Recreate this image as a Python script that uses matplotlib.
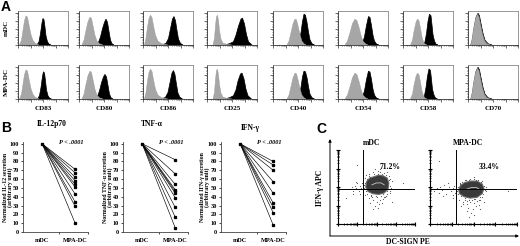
import numpy as np
import matplotlib
matplotlib.use("Agg")
import matplotlib.pyplot as plt
from matplotlib.patches import Polygon

# ---------------- data ----------------
MARKERS = ['CD83', 'CD80', 'CD86', 'CD25', 'CD40', 'CD54', 'CD58', 'CD70']
ROW_LABELS = ['mDC', 'MPA-DC']

# histogram outlines (x = fraction of log scale, y = fraction of max count)
ISOTYPE_CURVES = [
    [(0.03, 0), (0.07, 0.15), (0.10, 0.45), (0.13, 0.75), (0.16, 0.9), (0.19, 0.86), (0.22, 0.62), (0.26, 0.32), (0.30, 0.14), (0.35, 0.05), (0.42, 0)],
    [(0.06, 0), (0.10, 0.15), (0.14, 0.45), (0.18, 0.72), (0.22, 0.86), (0.25, 0.82), (0.28, 0.6), (0.32, 0.3), (0.36, 0.12), (0.41, 0.04), (0.48, 0)],
    [(0.03, 0), (0.06, 0.2), (0.09, 0.55), (0.12, 0.82), (0.15, 0.92), (0.18, 0.85), (0.21, 0.6), (0.25, 0.3), (0.30, 0.12), (0.37, 0.04), (0.50, 0)],
    [(0.12, 0), (0.15, 0.2), (0.17, 0.6), (0.19, 0.88), (0.21, 0.92), (0.23, 0.75), (0.25, 0.45), (0.28, 0.18), (0.32, 0.06), (0.40, 0.02), (0.50, 0)],
    [(0.28, 0), (0.32, 0.12), (0.36, 0.38), (0.40, 0.65), (0.44, 0.8), (0.47, 0.78), (0.50, 0.6), (0.54, 0.32), (0.58, 0.12), (0.62, 0.04), (0.66, 0)],
    [(0.14, 0), (0.19, 0.12), (0.24, 0.38), (0.29, 0.66), (0.34, 0.8), (0.38, 0.75), (0.42, 0.55), (0.46, 0.3), (0.50, 0.12), (0.55, 0.04), (0.60, 0)],
    [(0.15, 0), (0.19, 0.15), (0.22, 0.42), (0.26, 0.7), (0.29, 0.8), (0.32, 0.75), (0.35, 0.52), (0.38, 0.25), (0.41, 0.1), (0.44, 0.03), (0.48, 0)],
    [(0.05, 0), (0.08, 0.18), (0.11, 0.5), (0.15, 0.82), (0.19, 0.95), (0.22, 0.88), (0.25, 0.65), (0.29, 0.35), (0.33, 0.14), (0.38, 0.04), (0.45, 0)],
]
MDC_CURVES = [
    [(0.38, 0), (0.42, 0.1), (0.45, 0.35), (0.48, 0.68), (0.50, 0.82), (0.52, 0.78), (0.54, 0.55), (0.56, 0.28), (0.59, 0.1), (0.62, 0.03), (0.66, 0)],
    [(0.34, 0), (0.39, 0.08), (0.43, 0.25), (0.47, 0.5), (0.51, 0.7), (0.54, 0.8), (0.57, 0.7), (0.60, 0.42), (0.63, 0.15), (0.66, 0.04), (0.70, 0)],
    [(0.38, 0), (0.46, 0.05), (0.51, 0.2), (0.55, 0.5), (0.59, 0.8), (0.62, 0.88), (0.65, 0.75), (0.68, 0.45), (0.71, 0.18), (0.75, 0.05), (0.80, 0)],
    [(0.35, 0), (0.45, 0.04), (0.53, 0.1), (0.58, 0.3), (0.63, 0.58), (0.68, 0.8), (0.71, 0.83), (0.75, 0.65), (0.79, 0.32), (0.83, 0.1), (0.90, 0)],
    [(0.50, 0), (0.53, 0.12), (0.56, 0.38), (0.59, 0.72), (0.62, 0.95), (0.65, 0.92), (0.68, 0.7), (0.71, 0.4), (0.74, 0.16), (0.78, 0.04), (0.83, 0)],
    [(0.45, 0), (0.49, 0.06), (0.53, 0.25), (0.57, 0.6), (0.61, 0.88), (0.64, 0.85), (0.67, 0.6), (0.70, 0.3), (0.73, 0.12), (0.77, 0.03), (0.82, 0)],
    [(0.40, 0), (0.44, 0.1), (0.47, 0.35), (0.50, 0.72), (0.53, 0.95), (0.56, 0.9), (0.58, 0.62), (0.60, 0.32), (0.63, 0.12), (0.66, 0.03), (0.70, 0)],
    [(0.06, 0), (0.09, 0.18), (0.12, 0.5), (0.16, 0.85), (0.20, 0.98), (0.23, 0.9), (0.26, 0.66), (0.30, 0.36), (0.34, 0.15), (0.40, 0.04), (0.48, 0)],
]
MPA_CURVES = [
    [(0.39, 0), (0.43, 0.1), (0.46, 0.35), (0.49, 0.7), (0.51, 0.84), (0.53, 0.8), (0.55, 0.56), (0.57, 0.28), (0.60, 0.1), (0.63, 0.03), (0.67, 0)],
    [(0.32, 0), (0.37, 0.08), (0.41, 0.25), (0.45, 0.5), (0.49, 0.68), (0.52, 0.76), (0.55, 0.68), (0.58, 0.42), (0.61, 0.15), (0.64, 0.04), (0.68, 0)],
    [(0.37, 0), (0.45, 0.05), (0.50, 0.2), (0.54, 0.5), (0.58, 0.8), (0.61, 0.88), (0.64, 0.75), (0.67, 0.45), (0.70, 0.18), (0.74, 0.05), (0.79, 0)],
    [(0.35, 0), (0.45, 0.04), (0.53, 0.1), (0.58, 0.28), (0.62, 0.55), (0.67, 0.77), (0.70, 0.8), (0.74, 0.62), (0.78, 0.3), (0.82, 0.1), (0.89, 0)],
    [(0.50, 0), (0.53, 0.12), (0.56, 0.36), (0.59, 0.68), (0.62, 0.86), (0.65, 0.84), (0.68, 0.66), (0.71, 0.38), (0.74, 0.15), (0.78, 0.04), (0.83, 0)],
    [(0.45, 0), (0.49, 0.06), (0.53, 0.25), (0.57, 0.6), (0.61, 0.86), (0.64, 0.83), (0.67, 0.6), (0.70, 0.3), (0.73, 0.12), (0.77, 0.03), (0.82, 0)],
    [(0.39, 0), (0.43, 0.1), (0.46, 0.35), (0.49, 0.7), (0.52, 0.93), (0.55, 0.88), (0.57, 0.6), (0.59, 0.3), (0.62, 0.12), (0.65, 0.03), (0.69, 0)],
    [(0.06, 0), (0.09, 0.18), (0.12, 0.5), (0.16, 0.85), (0.20, 0.98), (0.23, 0.9), (0.26, 0.66), (0.30, 0.36), (0.34, 0.15), (0.40, 0.04), (0.48, 0)],
]

# panel B
B_CATEGORIES = ['mDC', 'MPA-DC']
CYTOKINES = ['IL-12p70', 'TNF-α', 'IFN-γ']
YLABELS = ['Normalized IL-12 secretion\n(arbitrary unit)',
           'Normalized TNF-α secretion\n(arbitrary unit)',
           'Normalized IFN-γ secretion\n(arbitrary unit)']
IL12_MPA = [71, 67, 62, 58, 54, 51, 43, 34, 29, 10]
TNF_MPA = [82, 66, 54, 48, 46, 44, 39, 28, 17, 5]
IFNG_MPA = [80, 76, 70, 57, 44, 33, 28, 22, 8]
MDC_LEVEL = 100
P_TEXT = 'P < .0001'

# panel C (fractions of the log display)
C_TITLES = ['mDC', 'MPA-DC']
C_PERCENT = ['71.2%', '33.4%']
C_GATES = [(0.32, 0.47), (0.30, 0.47)]
MDC_CORE = [(0.36, 0.50), (0.37, 0.57), (0.41, 0.62), (0.47, 0.64), (0.53, 0.66), (0.59, 0.65), (0.64, 0.62),
            (0.66, 0.55), (0.65, 0.47), (0.60, 0.42), (0.53, 0.40), (0.45, 0.41), (0.39, 0.44)]
MPA_CORE = [(0.33, 0.46), (0.35, 0.52), (0.40, 0.56), (0.47, 0.58), (0.54, 0.58), (0.60, 0.54),
            (0.62, 0.48), (0.60, 0.41), (0.54, 0.36), (0.46, 0.35), (0.39, 0.37), (0.34, 0.41)]
MDC_INNER = [(0.44, 0.53), (0.50, 0.555), (0.56, 0.555), (0.60, 0.53)]
MPA_INNER = [(0.42, 0.47), (0.48, 0.495), (0.54, 0.49), (0.57, 0.465)]
MDC_EVENTS_X = [0.16, 0.18, 0.20, 0.22, 0.24, 0.25, 0.27, 0.28, 0.30, 0.31, 0.33, 0.34, 0.19, 0.23, 0.29,
                0.40, 0.45, 0.50, 0.55, 0.60, 0.48, 0.53, 0.43, 0.62, 0.57, 0.46, 0.52,
                0.40, 0.45, 0.52, 0.60, 0.66, 0.35, 0.70, 0.69, 0.67, 0.55, 0.48,
                0.25, 0.70, 0.85, 0.10, 0.37, 0.63, 0.68, 0.35, 0.42, 0.58,
                0.34, 0.35, 0.36, 0.38, 0.42, 0.47, 0.52, 0.57, 0.62, 0.66, 0.68, 0.67, 0.63, 0.56,
                0.49, 0.43, 0.38, 0.44, 0.50, 0.58, 0.64, 0.40, 0.54, 0.61]
MDC_EVENTS_Y = [0.47, 0.50, 0.44, 0.52, 0.48, 0.55, 0.45, 0.51, 0.49, 0.56, 0.43, 0.53, 0.41, 0.57, 0.40,
                0.35, 0.32, 0.30, 0.33, 0.36, 0.25, 0.27, 0.38, 0.38, 0.29, 0.20, 0.22,
                0.68, 0.70, 0.71, 0.69, 0.65, 0.62, 0.58, 0.48, 0.42, 0.74, 0.75,
                0.80, 0.30, 0.55, 0.35, 0.66, 0.70, 0.61, 0.39, 0.28, 0.34,
                0.48, 0.55, 0.44, 0.61, 0.64, 0.67, 0.68, 0.67, 0.66, 0.60, 0.52, 0.45, 0.40, 0.38,
                0.38, 0.39, 0.41, 0.36, 0.37, 0.40, 0.44, 0.65, 0.70, 0.37]
MPA_EVENTS_X = [0.05, 0.08, 0.10, 0.12, 0.14, 0.16, 0.18, 0.20, 0.22, 0.24, 0.26, 0.28, 0.30, 0.32,
                0.15, 0.21, 0.27, 0.38, 0.42, 0.46, 0.50, 0.54, 0.58, 0.44, 0.49, 0.53, 0.47, 0.51,
                0.40, 0.56, 0.60, 0.36, 0.45, 0.40, 0.46, 0.53, 0.60, 0.64, 0.64, 0.34, 0.50,
                0.30, 0.90, 0.10, 0.42, 0.62, 0.33, 0.57,
                0.31, 0.32, 0.34, 0.37, 0.41, 0.45, 0.50, 0.55, 0.59, 0.62, 0.63, 0.61, 0.57, 0.51,
                0.45, 0.40, 0.36, 0.43, 0.48, 0.52, 0.56, 0.38, 0.29, 0.27]
MPA_EVENTS_Y = [0.45, 0.48, 0.42, 0.50, 0.46, 0.53, 0.41, 0.47, 0.50, 0.44, 0.39, 0.52, 0.46, 0.40,
                0.38, 0.55, 0.35, 0.30, 0.27, 0.30, 0.28, 0.31, 0.33, 0.22, 0.20, 0.24, 0.15, 0.12,
                0.33, 0.26, 0.37, 0.24, 0.10, 0.60, 0.61, 0.60, 0.58, 0.50, 0.44, 0.56, 0.64,
                0.70, 0.45, 0.85, 0.18, 0.30, 0.32, 0.20,
                0.44, 0.50, 0.54, 0.57, 0.59, 0.60, 0.61, 0.60, 0.57, 0.52, 0.46, 0.40, 0.36, 0.34,
                0.33, 0.35, 0.38, 0.31, 0.32, 0.34, 0.33, 0.27, 0.42, 0.49]

# ---------------- figure ----------------
W, H = 520, 246
fig = plt.figure(figsize=(W / 100, H / 100), dpi=100)
SERIF = ['Liberation Serif', 'DejaVu Serif']
SANS = ['Liberation Sans', 'DejaVu Sans']

overlay = fig.add_axes([0, 0, 1, 1], zorder=-1)
overlay.set_xlim(0, W)
overlay.set_ylim(H, 0)
overlay.axis('off')


def px_axes(x0, y0, x1, y1, z=1):
    return fig.add_axes([x0 / W, 1 - y1 / H, (x1 - x0) / W, (y1 - y0) / H], zorder=z)


def txt(x, y, s, **kw):
    base = dict(ha='center', va='center', family=SERIF, fontweight='bold', fontsize=5)
    base.update(kw)
    overlay.text(x, y, s, **base)


# panel letters
txt(1, 7, 'A', ha='left', family=SANS, fontsize=10)
txt(1, 128, 'B', ha='left', family=SANS, fontsize=10)
txt(316, 129, 'C', ha='left', family=SANS, fontsize=10)

# ---- panel A ----
box_x = [18, 79, 143, 207, 273, 338, 403, 468]
box_w = 50
row_y = [(11, 45), (65, 99)]
log_minor = [(d + np.log10(k)) / 4 for d in range(4) for k in range(2, 10)]
log_major = [d / 4 for d in range(5)]
for r, (y0, y1) in enumerate(row_y):
    stained = MDC_CURVES if r == 0 else MPA_CURVES
    for i, m in enumerate(MARKERS):
        ax = px_axes(box_x[i], y0, box_x[i] + box_w, y1)
        ax.add_patch(Polygon(stained[i], closed=True, facecolor='black', edgecolor='black', lw=0.5))
        ax.add_patch(Polygon(ISOTYPE_CURVES[i], closed=True, facecolor='#a6a6a6', edgecolor='#9a9a9a', lw=0.3))
        ax.set_xlim(0, 1)
        ax.set_ylim(0, 1.05)
        for s in ax.spines.values():
            s.set_color('#888888')
            s.set_linewidth(0.6)
        ax.spines['left'].set_color('#333333')
        ax.spines['bottom'].set_color('#333333')
        ax.set_xticks(log_major)
        ax.set_xticks(log_minor, minor=True)
        ax.set_yticks(np.linspace(0, 1, 5))
        ax.set_yticks(np.linspace(0, 1, 21), minor=True)
        ax.tick_params(which='major', length=2, width=0.5, color='#333333', labelleft=False, labelbottom=False)
        ax.tick_params(which='minor', length=1, width=0.4, color='#333333')
    txt(6, (y0 + y1) / 2, ROW_LABELS[r], rotation=90)
for i, m in enumerate(MARKERS):
    txt(box_x[i] + box_w / 2, 108, m)

# ---- panel B ----
b_x0 = [23, 123, 221]
b_w = 65
series = [IL12_MPA, TNF_MPA, IFNG_MPA]
ylab_x = [8, 108, 205]
title_y = [124, 124, 128]
for k in range(3):
    ax = px_axes(b_x0[k], 142, b_x0[k] + b_w, 232)
    for v in series[k]:
        ax.plot([0, 1], [MDC_LEVEL, v], color='black', lw=0.45)
        ax.plot([1], [v], marker='s', ms=1.4, color='black', lw=0)
    ax.plot([0], [MDC_LEVEL], marker='s', ms=1.6, color='black', lw=0)
    ax.set_xlim(-0.58, 1.39)
    ax.set_ylim(0, 102)
    ax.spines['top'].set_visible(False)
    ax.spines['right'].set_visible(False)
    for s in ('left', 'bottom'):
        ax.spines[s].set_linewidth(0.6)
        ax.spines[s].set_color('#444444')
    ax.set_yticks(range(0, 101, 10))
    ax.set_yticklabels([str(t) for t in range(0, 101, 10)], family=SERIF, fontweight='bold', fontsize=4.5)
    ax.set_xticks([0, 1])
    ax.set_xticklabels(B_CATEGORIES, family=SERIF, fontweight='bold', fontsize=4.5)
    ax.set_xticks([0.5, 1.39], minor=True)
    ax.tick_params(axis='y', length=1.5, width=0.5, pad=1.5)
    ax.tick_params(axis='x', which='major', length=0, pad=4)
    ax.tick_params(axis='x', which='minor', length=1.5, width=0.5)
    ax.text(0.93, 1.0, P_TEXT, transform=ax.transAxes, ha='right', va='center',
            family=SERIF, fontweight='bold', style='italic', fontsize=4.5)
    txt(b_x0[k] + 29, title_y[k], CYTOKINES[k], fontsize=5.5)
    txt(ylab_x[k], 187, YLABELS[k], rotation=90, fontsize=4.2, linespacing=1.0)

# ---- panel C ----
c_boxes = [(338, 415), (430, 517)]
cores = [MDC_CORE, MPA_CORE]
inners = [MDC_INNER, MPA_INNER]
ev = [(MDC_EVENTS_X, MDC_EVENTS_Y), (MPA_EVENTS_X, MPA_EVENTS_Y)]
for k in range(2):
    x0, x1 = c_boxes[k]
    ax = px_axes(x0, 150, x1, 224)
    ax.add_patch(Polygon(cores[k], closed=True, facecolor='#3a3a3a', edgecolor='#6a6a6a', lw=0.8))
    ax.scatter(ev[k][0], ev[k][1], s=0.7, color='#555555', lw=0)
    ix, iy = zip(*inners[k])
    ax.plot(ix, iy, color='#c8c8c8', lw=0.6)
    gx, gy = C_GATES[k]
    ax.axvline(gx, color='black', lw=0.7)
    ax.axhline(gy, color='black', lw=0.7)
    ax.set_xlim(0, 1)
    ax.set_ylim(0, 1)
    ax.spines['top'].set_visible(False)
    ax.spines['right'].set_visible(False)
    for s in ('left', 'bottom'):
        ax.spines[s].set_linewidth(0.8)
    ax.set_xticks(log_major)
    ax.set_xticks(log_minor, minor=True)
    ax.set_yticks(log_major)
    ax.set_yticks(log_minor, minor=True)
    ax.tick_params(which='major', direction='inout', length=3, width=0.8, labelleft=False, labelbottom=False)
    ax.tick_params(which='minor', direction='inout', length=2, width=0.5)
    txt((x0 + x1) / 2 - 5, 143, C_TITLES[k], fontsize=5.5)
    ax.text(0.68, 0.77, C_PERCENT[k], transform=ax.transAxes, ha='center', va='center',
            family=SERIF, fontweight='bold', fontsize=5.5)

overlay.annotate('', xy=(330, 139), xytext=(330, 236),
                 arrowprops=dict(arrowstyle='-|>', lw=0.7, color='black', mutation_scale=4, shrinkA=0, shrinkB=0))
overlay.annotate('', xy=(519, 236), xytext=(330, 236),
                 arrowprops=dict(arrowstyle='-|>', lw=0.7, color='black', mutation_scale=4, shrinkA=0, shrinkB=0))
txt(320, 188, 'IFN-γ APC', rotation=90, fontsize=5.5)
txt(408, 242, 'DC-SIGN PE', fontsize=5.5)

fig.savefig('out.png', dpi=100)
